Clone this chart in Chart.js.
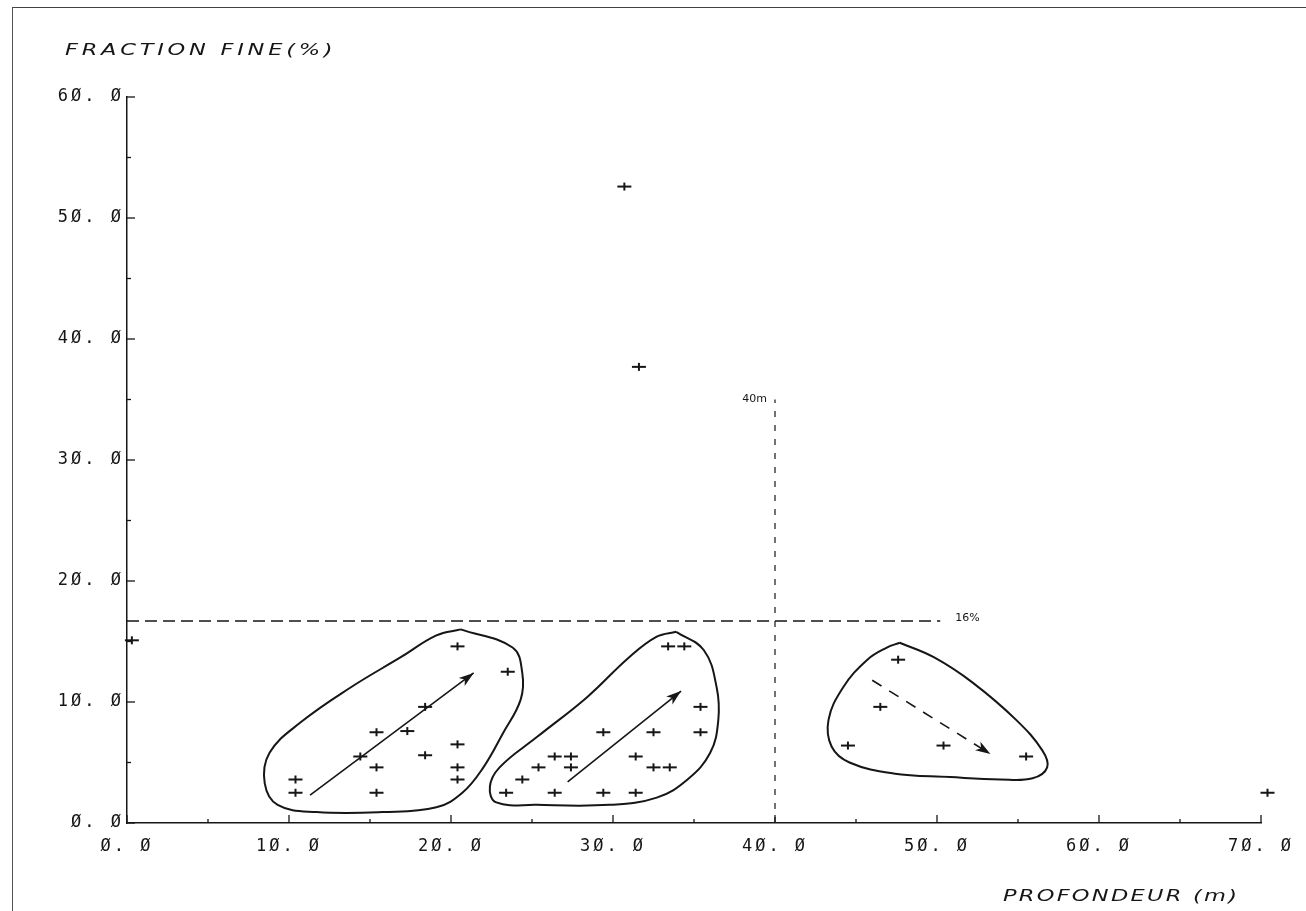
<!DOCTYPE html>
<html>
<head>
<meta charset="utf-8">
<script src="https://cdn.jsdelivr.net/npm/chart.js@4.4.0/dist/chart.umd.min.js"></script>
<style>
  body { margin: 0; background: #fff; }
  #wrap { position: relative; width: 1306px; height: 911px; }
  #frame { position: absolute; left: 12px; top: 7px; right: 0; bottom: 0;
           border-top: 1.5px solid #444; border-left: 1.5px solid #555; pointer-events: none; }
</style>
</head>
<body>
<div id="wrap">
  <canvas id="myChart" width="1306" height="911"></canvas>
  <div id="frame"></div>
</div>
<script>
const ink = '#161616';

// axes
const xTicks = [0, 10, 20, 30, 40, 50, 60, 70];
const yTicks = [0, 10, 20, 30, 40, 50, 60];
const xMinor = [5, 15, 25, 35, 45, 55, 65];
const yMinor = [5, 15, 25, 35, 45, 55];

// samples : profondeur (m) / fraction fine (%)
const depth = [20.4, 23.5, 18.4, 15.4, 17.3, 14.4, 18.4, 20.4, 15.4, 20.4, 20.4, 10.4, 10.4, 15.4,
  33.4, 34.4, 35.4, 35.4, 29.4, 32.5, 26.4, 27.4, 31.4, 25.4, 27.4, 32.5, 33.5, 24.4, 23.4, 26.4, 29.4, 31.4,
  47.6, 46.5, 44.5, 50.4, 55.5,
  30.7, 31.6, 70.4, 0.3];
const fines = [14.6, 12.5, 9.6, 7.5, 7.6, 5.5, 5.6, 6.5, 4.6, 4.6, 3.6, 3.6, 2.5, 2.5,
  14.6, 14.6, 9.6, 7.5, 7.5, 7.5, 5.5, 5.5, 5.5, 4.6, 4.6, 4.6, 4.6, 3.6, 2.5, 2.5, 2.5, 2.5,
  13.5, 9.6, 6.4, 6.4, 5.5,
  52.6, 37.7, 2.5, 15.1];

// limits drawn on the plot
const fineLimit = 16.7;     // "16%"
const fineLimitEnd = 50.2;
const depthLimit = 40;      // "40m"
const depthLimitTop = 35;

// hand drawn groups (depth, fines)
const group1X = [20.6, 23.8, 24.4, 24.3, 23.2, 22.0, 20.7, 19.1, 15.8, 11.7, 9.3, 8.5, 8.8, 10.7, 13.8, 16.9, 19.1, 20.6];
const group1Y = [16.0, 14.5, 12.4, 10.2, 7.4, 4.6, 2.5, 1.3, 0.9, 0.9, 1.5, 3.3, 5.8, 8.3, 11.2, 13.7, 15.5, 16.0];
const group2X = [33.9, 35.6, 36.4, 36.5, 36.0, 34.6, 32.7, 29.8, 25.3, 22.8, 22.4, 23.0, 25.3, 28.4, 31.0, 32.7, 33.9];
const group2Y = [15.8, 14.3, 11.2, 8.5, 5.8, 3.6, 2.1, 1.5, 1.5, 1.7, 3.0, 4.6, 7.1, 10.4, 13.7, 15.4, 15.8];
const group3X = [47.7, 49.8, 52.2, 54.9, 56.5, 56.8, 55.9, 53.9, 50.8, 47.3, 44.6, 43.5, 43.3, 44.2, 45.7, 46.9, 47.7];
const group3Y = [14.9, 13.7, 11.6, 8.5, 6.0, 4.6, 3.7, 3.6, 3.8, 4.1, 5.0, 6.3, 8.5, 11.2, 13.5, 14.5, 14.9];

// trend arrows
const arrow1X = [11.3, 21.4], arrow1Y = [2.3, 12.4];
const arrow2X = [27.2, 34.2], arrow2Y = [3.4, 10.9];
const arrow3X = [46.0, 53.3], arrow3Y = [11.8, 5.7];

const pts = (xs, ys) => xs.map((v, i) => ({x: v, y: ys[i]}));

// plotter "+" mark
const cross = document.createElement('canvas');
cross.width = 16; cross.height = 10;
const cc = cross.getContext('2d');
cc.fillStyle = ink;
cc.fillRect(1, 4, 14, 2);
cc.fillRect(7, 1, 2, 8);

const zeroLabel = v => v.toFixed(1).replace(/0/g, 'Ø').replace('.', '. ');

const outline = (xs, ys) => ({
  data: pts(xs, ys), showLine: true, borderColor: ink, borderWidth: 2,
  tension: 0.4, pointRadius: 0, fill: false
});
const arrow = (xs, ys, dash) => ({
  data: pts(xs, ys), showLine: true, borderColor: ink, borderWidth: 1.6,
  borderDash: dash || [], pointRadius: 0, arrow: true
});

// wide plotter lettering
function plotterText(ctx, text, x, y) {
  ctx.save();
  ctx.translate(x, y);
  ctx.scale(1.5, 1);
  ctx.fillText(text, 0, 0);
  ctx.restore();
}

const plotterMarks = {
  id: 'plotterMarks',
  beforeDraw(chart) {
    chart.ctx.letterSpacing = '3px';
  },
  afterDatasetsDraw(chart) {
    const {ctx, chartArea, scales: {x, y}} = chart;
    ctx.save();
    ctx.letterSpacing = '0px';
    ctx.strokeStyle = ink;
    ctx.fillStyle = ink;
    ctx.lineWidth = 1.3;
    const seg = (a, b, c, d) => { ctx.beginPath(); ctx.moveTo(a, b); ctx.lineTo(c, d); ctx.stroke(); };
    xTicks.forEach(v => { const p = x.getPixelForValue(v); seg(p, chartArea.bottom, p, chartArea.bottom - 8); });
    xMinor.forEach(v => { const p = x.getPixelForValue(v); seg(p, chartArea.bottom, p, chartArea.bottom - 4); });
    yTicks.forEach(v => { const p = y.getPixelForValue(v); seg(chartArea.left, p, chartArea.left + 8, p); });
    yMinor.forEach(v => { const p = y.getPixelForValue(v); seg(chartArea.left, p, chartArea.left + 4, p); });

    // arrow heads
    chart.data.datasets.forEach((ds, i) => {
      if (!ds.arrow) return;
      const d = chart.getDatasetMeta(i).data;
      const a = d[d.length - 2], b = d[d.length - 1];
      const ang = Math.atan2(b.y - a.y, b.x - a.x);
      ctx.beginPath();
      ctx.moveTo(b.x, b.y);
      ctx.lineTo(b.x - 15 * Math.cos(ang) + 5 * Math.sin(ang), b.y - 15 * Math.sin(ang) - 5 * Math.cos(ang));
      ctx.lineTo(b.x - 11 * Math.cos(ang), b.y - 11 * Math.sin(ang));
      ctx.lineTo(b.x - 15 * Math.cos(ang) - 5 * Math.sin(ang), b.y - 15 * Math.sin(ang) + 5 * Math.cos(ang));
      ctx.closePath();
      ctx.fill();
    });

    ctx.font = '11px "DejaVu Sans"';
    ctx.textBaseline = 'middle';
    ctx.textAlign = 'right';
    ctx.fillText('40m', x.getPixelForValue(depthLimit) - 8, y.getPixelForValue(depthLimitTop));
    ctx.textAlign = 'left';
    ctx.fillText('16%', x.getPixelForValue(fineLimitEnd) + 15, y.getPixelForValue(fineLimit) - 3);

    // axis titles
    ctx.font = 'italic 15px "DejaVu Sans"';
    ctx.letterSpacing = '2.5px';
    plotterText(ctx, 'FRACTION FINE(%)', 65, 51);
    ctx.letterSpacing = '1.5px';
    plotterText(ctx, 'PROFONDEUR (m)', 1003, 897);
    ctx.restore();
  }
};

const myChart = new Chart(document.getElementById('myChart'), {
  type: 'scatter',
  data: {
    datasets: [
      outline(group1X, group1Y),
      outline(group2X, group2Y),
      outline(group3X, group3Y),
      arrow(arrow1X, arrow1Y),
      arrow(arrow2X, arrow2Y),
      arrow(arrow3X, arrow3Y, [11, 9]),
      {
        data: [{x: 0, y: fineLimit}, {x: fineLimitEnd, y: fineLimit}],
        showLine: true, borderColor: ink, borderWidth: 1.5, borderDash: [12, 6], pointRadius: 0
      },
      {
        data: [{x: depthLimit, y: 0}, {x: depthLimit, y: depthLimitTop}],
        showLine: true, borderColor: ink, borderWidth: 1.2, borderDash: [6, 8], pointRadius: 0
      },
      {
        data: pts(depth, fines),
        pointStyle: cross, pointRadius: 6, clip: false
      }
    ]
  },
  options: {
    responsive: false,
    animation: false,
    events: [],
    layout: { padding: { left: 0, top: 97, right: 45, bottom: 0 } },
    plugins: { legend: { display: false }, tooltip: { enabled: false } },
    scales: {
      x: {
        type: 'linear', min: 0, max: 70,
        afterFit: s => { s.height = 88; },
        afterBuildTicks: s => { s.ticks = xTicks.map(v => ({value: v})); },
        grid: { display: false, drawTicks: false },
        border: { display: true, color: ink, width: 1.5 },
        ticks: { padding: 13, color: ink, font: { family: '"DejaVu Sans Mono"', size: 17 },
                 maxRotation: 0, callback: v => zeroLabel(v) }
      },
      y: {
        type: 'linear', min: 0, max: 60,
        afterFit: s => { s.width = 127; },
        afterBuildTicks: s => { s.ticks = yTicks.map(v => ({value: v})); },
        grid: { display: false, drawTicks: false },
        border: { display: true, color: ink, width: 1.5 },
        ticks: { padding: 3, color: ink, font: { family: '"DejaVu Sans Mono"', size: 17 },
                 callback: v => zeroLabel(v) }
      }
    }
  },
  plugins: [plotterMarks]
});
</script>
</body>
</html>
